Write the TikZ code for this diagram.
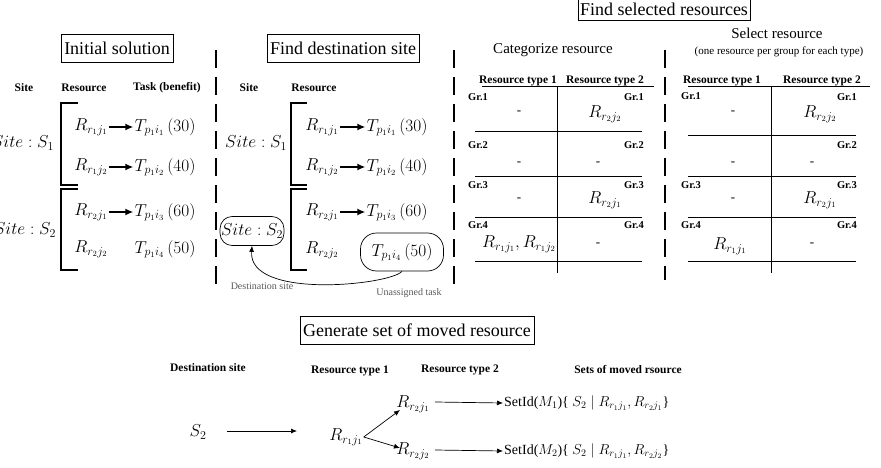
\documentclass[tikz,border=0pt]{standalone}
\usepackage{fontspec}
\setmainfont{Liberation Serif}
\usetikzlibrary{arrows.meta}
\begin{document}
\begin{tikzpicture}[x=1pt,y=-1pt,
  title/.style={draw,font=\fontsize{18}{20}\selectfont,inner sep=3pt,minimum height=28pt},
  hdr/.style={font=\bfseries\fontsize{11.5}{13}\selectfont},
  gr/.style={font=\bfseries\fontsize{10.5}{12}\selectfont,inner sep=1pt},
  m/.style={font=\fontsize{17}{19}\selectfont,inner sep=1pt},
  sm/.style={font=\fontsize{13}{15}\selectfont,inner sep=1pt},
  dashline/.style={line width=2pt,dash pattern=on 18pt off 9pt},
  bar/.style={line width=1.3pt},
  arr/.style={-{Latex[length=8pt,width=7pt]},line width=1.6pt},
  thin/.style={-{Latex[length=6pt,width=5pt]},line width=0.7pt},
  tab/.style={line width=0.6pt}]
\useasboundingbox (0,0) rectangle (881,468);
% titles
\node[title] (t1) at (117,48) {Initial solution};
\node[title] (t2) at (343,48) {Find destination site};
\node[title,minimum height=22pt,inner sep=2pt] (t3) at (664,9) {Find selected resources};
\node[title] (t4) at (417,330) {Generate set of moved resource};
% dashed dividers
\draw[dashline] (216,50) -- (216,292);
\draw[dashline] (454,50) -- (454,292);
\draw[dashline] (665,50) -- (665,280);
% panel 1
\node[hdr] (h1) at (24,88) {Site};
\node[hdr] (h2) at (84,88) {Resource};
\node[hdr] (h3) at (167,88) {Task (benefit)};
\draw[bar] (78,103) -- (61,103) -- (61,185) -- (78,185);
\draw[bar] (78,189) -- (61,189) -- (61,270) -- (78,270);
\node[m] (s1) at (23,143) {$Site:S_1$};
\node[m] (s2) at (25,230) {$Site:S_2$};
\foreach \y/\r/\t/\b/\n in {127/r_1j_1/p_1i_1/30/a,167/r_1j_2/p_1i_2/40/b,212/r_2j_1/p_1i_3/60/c,249/r_2j_2/p_1i_4/50/d}{
  \node[m] (ra\n) at (91,\y) {$R_{\r}$};
  \node[m] (ta\n) at (165,\y) {$T_{\t}\,(\b)$};
}
\draw[arr] (raa) -- (taa.west);
\draw[arr] (rab) -- (tab.west);
\draw[arr] (rac) -- (tac.west);
% panel 2
\node[hdr] (h4) at (249,88) {Site};
\node[hdr] (h5) at (314,88) {Resource};
\draw[bar] (307,103) -- (291,103) -- (291,185) -- (307,185);
\draw[bar] (307,189) -- (291,189) -- (291,270) -- (307,270);
\node[m] (s3) at (256,143) {$Site:S_1$};
\node[m,draw,rounded corners=12pt,line width=0.7pt,minimum width=62pt,minimum height=29pt] (s4) at (252,231) {$Site:S_2$};
\foreach \y/\r/\t/\b/\n in {127/r_1j_1/p_1i_1/30/a,167/r_1j_2/p_1i_2/40/b,212/r_2j_1/p_1i_3/60/c}{
  \node[m] (rb\n) at (322,\y) {$R_{\r}$};
  \node[m] (tb\n) at (397,\y) {$T_{\t}\,(\b)$};
}
\node[m] (rbd) at (322,250) {$R_{r_2j_2}$};
\node[m,draw,rounded corners=16pt,line width=0.7pt,minimum width=83pt,minimum height=38pt] (tbd) at (402,252) {$T_{p_1i_4}\,(50)$};
\draw[arr] (rba) -- (tba.west);
\draw[arr] (rbb) -- (tbb.west);
\draw[arr] (rbc) -- (tbc.west);
\draw[thin] (tbd.south) .. controls (390,285) and (248,300) .. (s4.south);
\node[font=\fontsize{10}{12}\selectfont,gray!70!black] (ds) at (262,286) {Destination site};
\node[font=\fontsize{10}{12}\selectfont,gray!70!black] (ut) at (409,293) {Unassigned task};
% panel 3
\node[font=\fontsize{15}{17}\selectfont] (cr) at (553,50) {Categorize resource};
\node[font=\fontsize{15}{17}\selectfont] (sr) at (777,33) {Select resource};
\node[font=\fontsize{11}{13}\selectfont] (srs) at (779,52) {(one resource per group for each type)};
% table 1
\node[hdr] (c1) at (518,81) {Resource type 1};
\node[hdr] (c2) at (605,81) {Resource type 2};
\draw[tab] (482,86) -- (654,86);
\draw[tab] (557,86) -- (557,273);
\foreach \y in {131,176,217,261} \draw[tab] (475,\y) -- (642,\y);
\foreach \y/\g in {97/1,145/2,185/3,225/4}{
  \node[gr,anchor=west] at (467,\y) {Gr.\g};
  \node[gr,anchor=east] at (645,\y) {Gr.\g};
}
\node[sm] at (519,113) {-};
\node[m] (u1) at (605,114) {$R_{r_2j_2}$};
\node[sm] at (519,164) {-};
\node[sm] at (598,164) {-};
\node[sm] at (519,200) {-};
\node[m] (u2) at (605,200) {$R_{r_2j_1}$};
\node[m] (u3) at (519,244) {$R_{r_1j_1},R_{r_1j_2}$};
\node[sm] at (598,245) {-};
% table 2
\node[hdr] (c3) at (722,81) {Resource type 1};
\node[hdr] (c4) at (822,81) {Resource type 2};
\draw[tab] (688,86) -- (870,86);
\draw[tab] (771,86) -- (771,273);
\foreach \y in {135,176,217,261} \draw[tab] (688,\y) -- (856,\y);
\node[gr,anchor=west] at (680,96) {Gr.1};
\node[gr,anchor=east] at (858,97) {Gr.1};
\node[gr,anchor=east] at (858,145) {Gr.2};
\node[gr,anchor=west] at (680,185) {Gr.3};
\node[gr,anchor=east] at (858,185) {Gr.3};
\node[gr,anchor=west] at (680,225) {Gr.4};
\node[gr,anchor=east] at (858,225) {Gr.4};
\node[sm] at (733,113) {-};
\node[m] (v1) at (820,114) {$R_{r_2j_2}$};
\node[sm] at (733,164) {-};
\node[sm] at (812,164) {-};
\node[sm] at (733,200) {-};
\node[m] (v2) at (820,200) {$R_{r_2j_1}$};
\node[m] (v3) at (730,246) {$R_{r_1j_1}$};
\node[sm] at (812,245) {-};
% bottom
\node[hdr] (b1) at (208,368) {Destination site};
\node[hdr] (b2) at (350,371) {Resource type 1};
\node[hdr] (b3) at (460,370) {Resource type 2};
\node[hdr] (b4) at (628,370) {Sets of moved rsource};
\node[m] (x0) at (198,432) {$S_2$};
\node[m] (x1) at (346,437) {$R_{r_1j_1}$};
\node[m] (x2) at (413,404) {$R_{r_2j_1}$};
\node[m] (x3) at (413,451) {$R_{r_2j_2}$};
\node[anchor=west,font=\fontsize{14}{16}\selectfont,inner sep=1pt] (y1) at (503,403) {SetId($M_1$)\{ $S_2 \mid R_{r_1j_1}, R_{r_2j_1}$\}};
\node[anchor=west,font=\fontsize{14}{16}\selectfont,inner sep=1pt] (y2) at (503,451) {SetId($M_2$)\{ $S_2 \mid R_{r_1j_1}, R_{r_2j_2}$\}};
\draw[thin] (227,431) -- (297,431);
\draw[thin] (x1.east) -- (400,410);
\draw[thin] (x1.east) -- (400,448);
\draw[thin] (435,402) -- (y1.west);
\draw[thin] (435,450) -- (y2.west);
\end{tikzpicture}
\end{document}
